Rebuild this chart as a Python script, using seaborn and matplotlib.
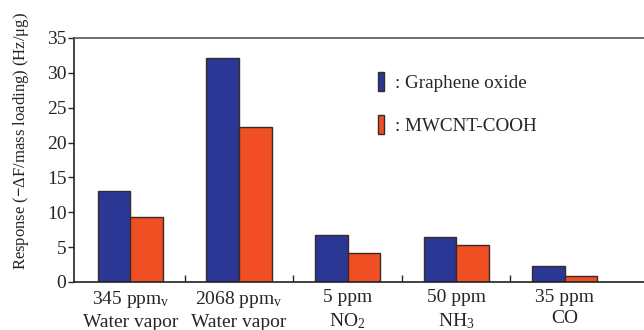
import matplotlib
matplotlib.use('Agg')
import matplotlib.pyplot as plt
import seaborn as sns
import pandas as pd

# values
categories = ['345 ppm$_\\mathrm{v}$\nWater vapor', '2068 ppm$_\\mathrm{v}$\nWater vapor',
              '5 ppm\nNO$_2$', '50 ppm\nNH$_3$', '35 ppm\nCO']
graphene_oxide = [13.1, 32.2, 6.8, 6.5, 2.3]
mwcnt_cooh = [9.3, 22.3, 4.1, 5.3, 0.8]
series_names = [': Graphene oxide', ': MWCNT-COOH']
yticks = [0, 5, 10, 15, 20, 25, 30, 35]

df = pd.DataFrame({
    'cat': categories * 2,
    'val': graphene_oxide + mwcnt_cooh,
    'material': [series_names[0]] * 5 + [series_names[1]] * 5,
})

sns.set_style('white')
plt.rcParams['font.family'] = ['Liberation Serif', 'DejaVu Serif']
plt.rcParams['mathtext.fontset'] = 'custom'
plt.rcParams['mathtext.rm'] = 'Liberation Serif'
plt.rcParams['mathtext.it'] = 'Liberation Serif:italic'
plt.rcParams['mathtext.bf'] = 'Liberation Serif:bold'

fig = plt.figure(figsize=(6.44, 3.30), dpi=100)
ax = fig.add_axes([74 / 644, 48 / 330, 570 / 644, 244 / 330])

sns.barplot(data=df, x='cat', y='val', hue='material', hue_order=series_names,
            palette=['#2b3794', '#f04e23'], saturation=1, width=0.6, gap=0,
            edgecolor='#3a2a2a', linewidth=1.0, ax=ax)

ax.set_xlim(-0.52, 4.73)
ax.set_ylim(0, 35)
ax.set_yticks(yticks)
ax.tick_params(axis='y', direction='out', length=4, width=1, labelsize=14, pad=1.5, left=True)
ax.set_xticks(range(len(categories)))
ax.set_xticklabels(categories, fontsize=14, linespacing=1.35)
ax.tick_params(axis='x', which='major', length=0, pad=5)
ax.set_xticks([0.5, 1.5, 2.5, 3.5], minor=True)
ax.tick_params(axis='x', which='minor', direction='in', length=5, width=1, bottom=True)

for s in ['left', 'bottom', 'top']:
    ax.spines[s].set_color('#222222')
    ax.spines[s].set_linewidth(1.2)
ax.spines['top'].set_color('#555555')
ax.spines['right'].set_visible(False)

ax.set_xlabel('')
ax.set_ylabel('Response ($\\mathbf{-}\\Delta$F/mass loading) (Hz/\u03bcg)', fontsize=12)
ax.yaxis.set_label_coords(-0.075, 0.578)

leg = ax.legend(loc='upper left', bbox_to_anchor=(0.516, 0.9), frameon=False,
                handlelength=0.33, handleheight=1.17, handletextpad=0.55,
                labelspacing=1.2, fontsize=13.8, borderpad=0)

fig.savefig('out.png', dpi=100)
